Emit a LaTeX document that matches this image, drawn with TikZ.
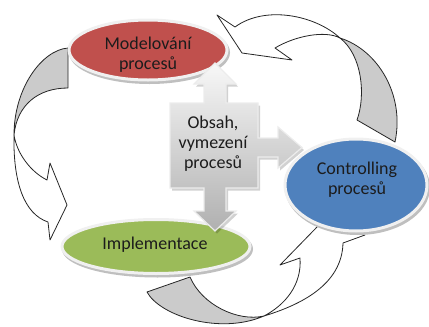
\documentclass[tikz,border=0pt]{standalone}
\usepackage{fontspec}
\setmainfont{Carlito}
\usetikzlibrary{shapes.geometric}
\definecolor{redfill}{HTML}{C0504D}
\definecolor{greenfill}{HTML}{9BBB59}
\definecolor{bluefill}{HTML}{4F81BD}
\definecolor{bandgray}{HTML}{CBCBCB}
\definecolor{txt}{HTML}{1C1C1C}
\newcommand\quadarrowpath{(215,63) -- (236,84) -- (226,84) -- (226,103) -- (258,103) -- (258,138)
  -- (278,138) -- (278,127) -- (302,147.5) -- (278,168) -- (278,157) -- (258,157) -- (258,188)
  -- (226,188) -- (226,211) -- (236,211) -- (215,231) -- (194,211) -- (204,211) -- (204,188)
  -- (170,188) -- (170,103) -- (204,103) -- (204,84) -- (194,84) -- cycle}
\begin{document}
\begin{tikzpicture}[x=1pt,y=-1pt,
  band/.style={draw=black!85, line width=0.8pt, line join=round},
  backface/.style={band, fill=bandgray},
  frontface/.style={band, fill=white},
  stage/.style={ellipse, inner sep=0pt, draw=white!88!gray, line width=3pt},
  stageshadow/.style={ellipse, inner sep=0pt, fill=gray!50, draw=gray!50, line width=3pt},
  stagetext/.style={inner sep=0pt, align=center, text=txt, font=\fontsize{18}{20}\selectfont}
]
\useasboundingbox (0,0) rectangle (429,327);

% left block arrow: Modelovani -> Implementace
\path[frontface] (14,135) .. controls (13,182) and (24,214) .. (48,222) -- (50,240) -- (67,205)
  -- (50,163) -- (47,180) .. controls (31,172) and (17,154) .. (14,135) -- cycle;
\path[backface] (68,48) .. controls (42,50) and (14,88) .. (14,135)
  .. controls (17,105) and (38,88) .. (68,88) -- cycle;

% upper right block arrow: Controlling -> Modelovani
\path[frontface] (340,38) .. controls (315,15) and (265,5) .. (235,27) -- (217,15) -- (242,53)
  -- (292,60) -- (275,48) .. controls (295,36) and (325,30) .. (340,38) -- cycle;
\path[backface] (340,38) .. controls (378,50) and (405,95) .. (395,142) -- (357,120)
  .. controls (366,95) and (362,55) .. (340,38) -- cycle;

% bottom block arrow: Implementace -> Controlling
\path[backface] (147,292) .. controls (160,316) and (220,335) .. (264,316)
  .. controls (238,322) and (202,305) .. (190,277) -- cycle;
\path[frontface] (264,316) .. controls (300,305) and (342,285) .. (343,243) -- (365,235)
  -- (318,226) -- (280,265) -- (300,258) .. controls (302,285) and (285,305) .. (264,316) -- cycle;

% stages
\node[stageshadow, minimum width=158pt, minimum height=60pt] (modelshadow) at (149.5,52.5) {};
\node[stage, fill=redfill, minimum width=158pt, minimum height=60pt] (model) at (148,50) {};
\node[stagetext] (modeltext) at (148,54.5) {Modelování\\procesů};

\node[stageshadow, minimum width=142pt, minimum height=92pt] (ctrlshadow) at (357.5,187.5) {};
\node[stage, fill=bluefill, minimum width=142pt, minimum height=92pt] (ctrl) at (356,185) {};
\node[stagetext] (ctrltext) at (357,180) {Controlling\\procesů};

\node[stageshadow, minimum width=188pt, minimum height=54pt] (implshadow) at (157.5,249) {};
\node[stage, fill=greenfill, minimum width=188pt, minimum height=54pt] (impl) at (156,246.5) {};
\node[stagetext] (impltext) at (155,244.5) {Implementace};

% central four-way arrow
\fill[black, opacity=0.18] [shift={(2,2.5)}] \quadarrowpath;
\path[draw=white!85!gray, line width=1.2pt, line join=miter, top color=gray!6, bottom color=gray!62]
  \quadarrowpath;
\node[stagetext] (scope) at (213,144) {Obsah,\\vymezení\\procesů};
\end{tikzpicture}
\end{document}
